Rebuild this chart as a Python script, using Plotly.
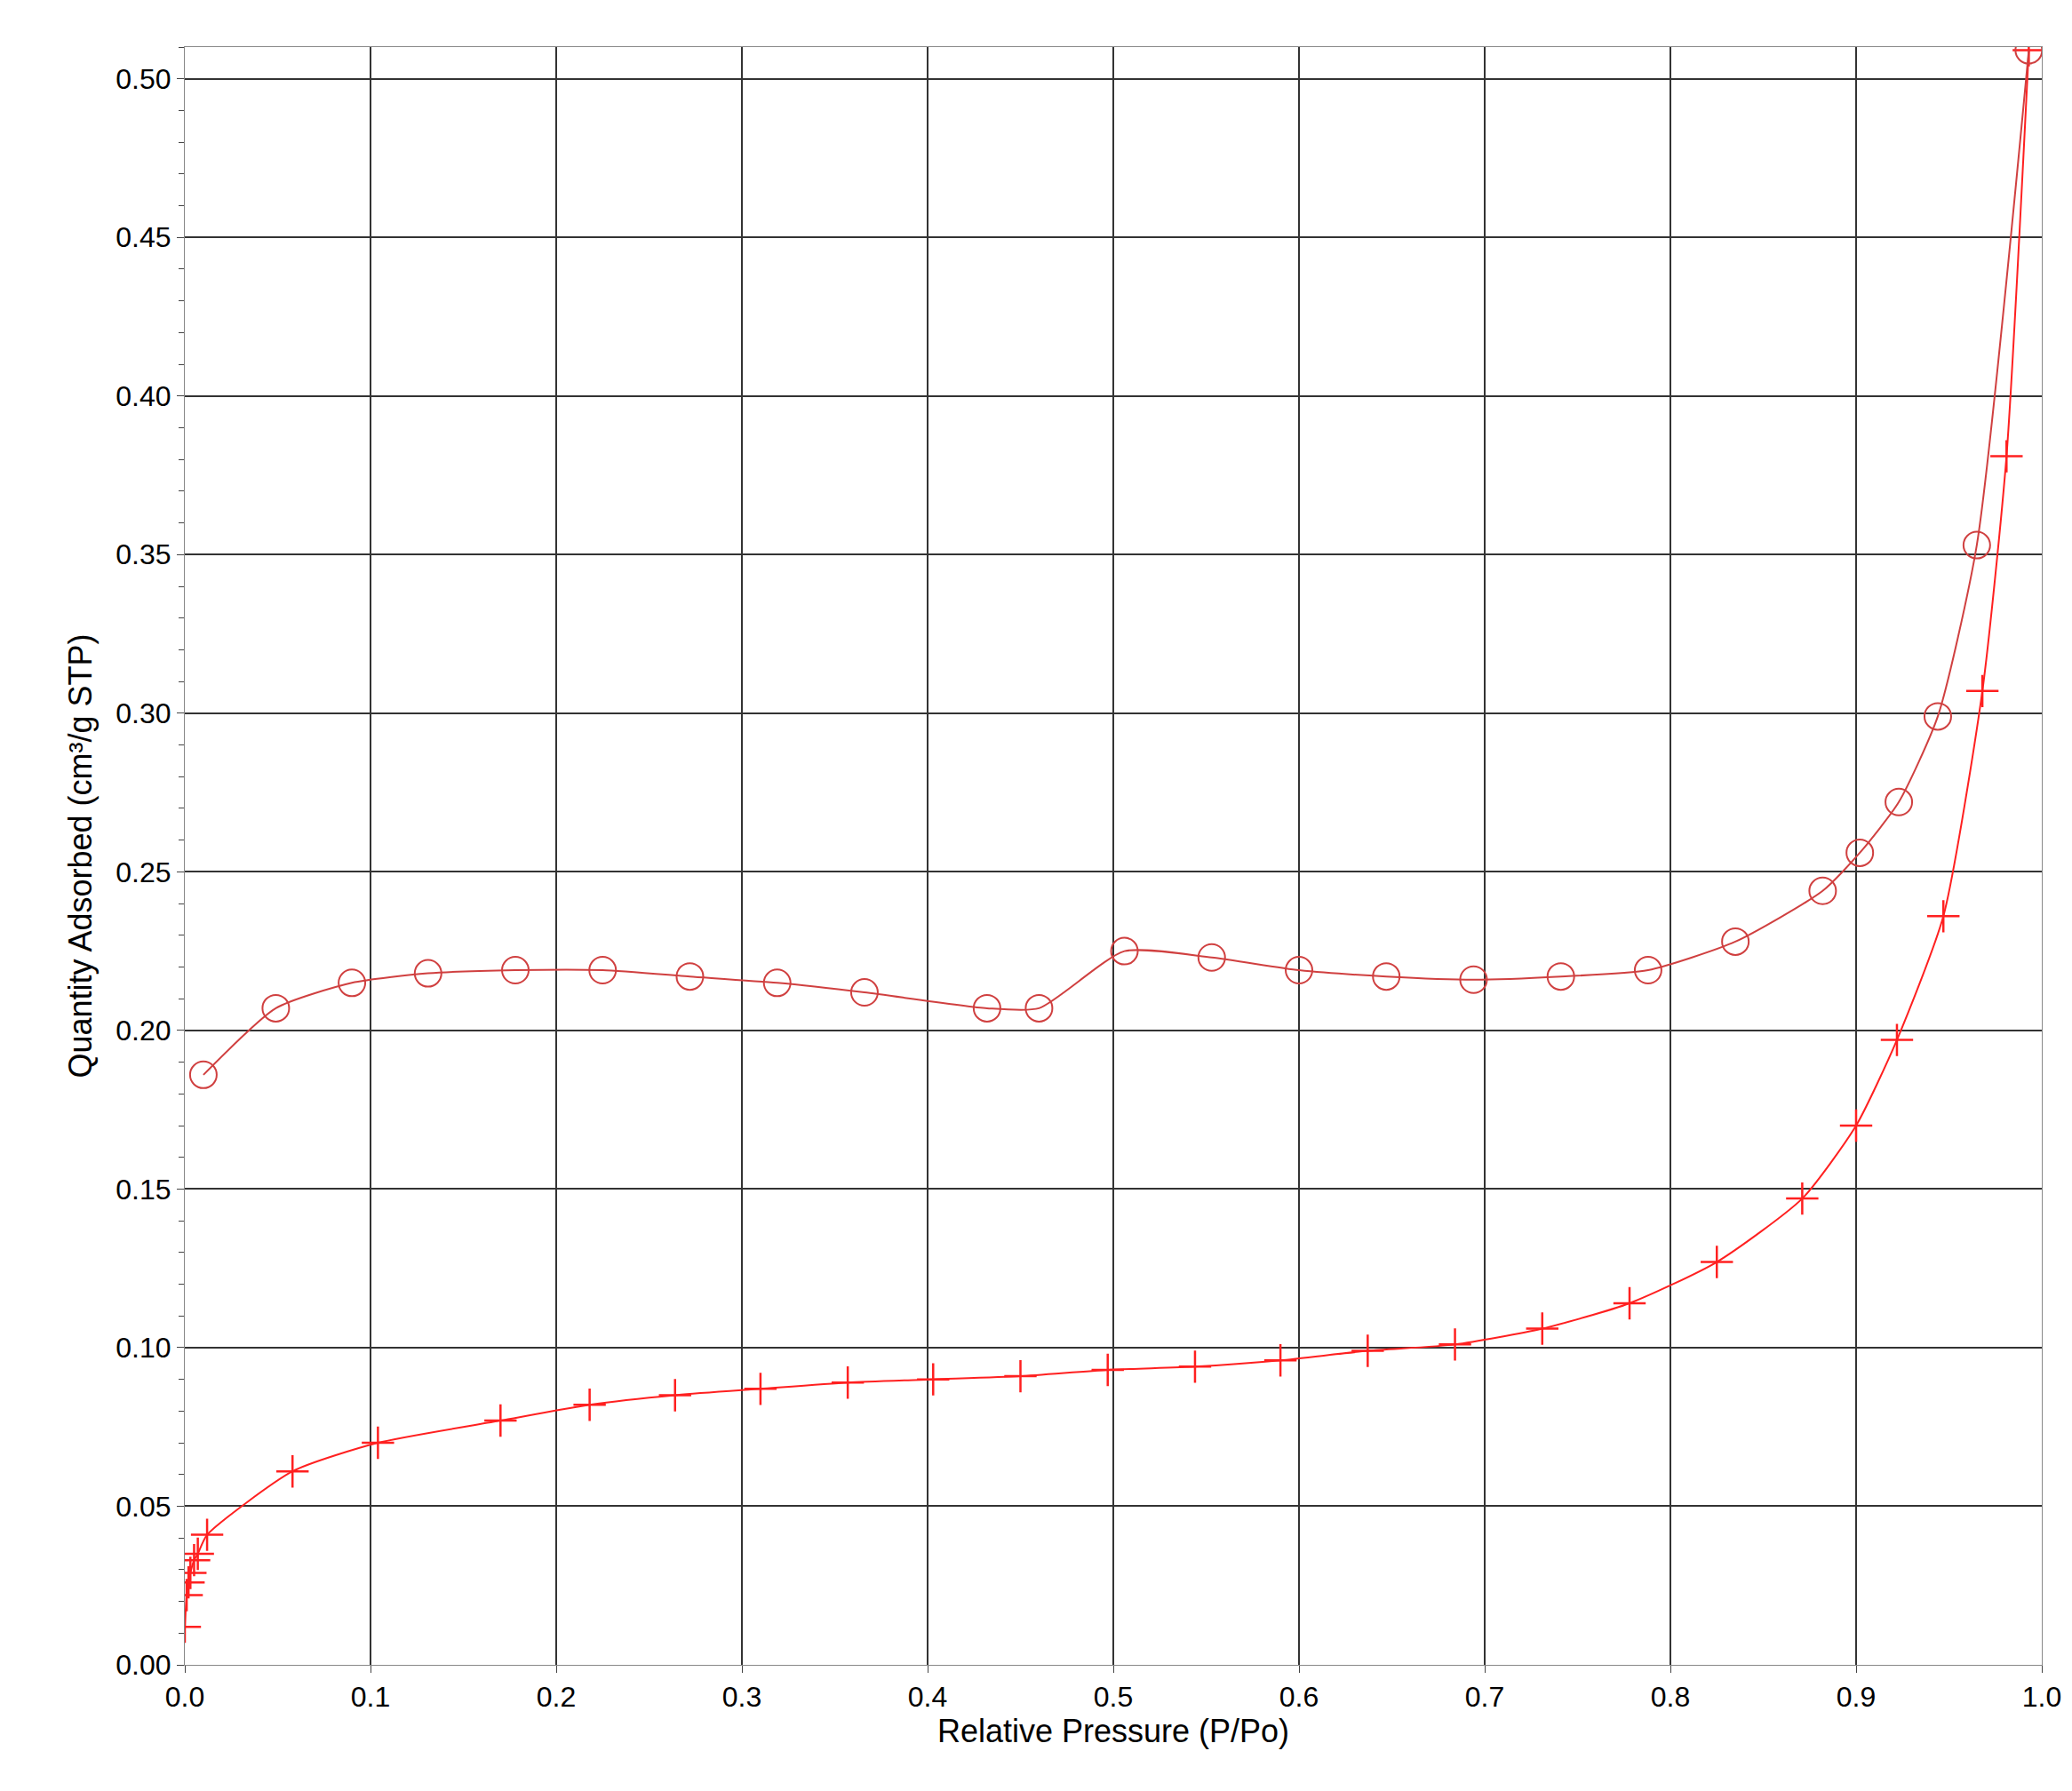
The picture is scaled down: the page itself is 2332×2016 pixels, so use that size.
import plotly.graph_objects as go

ads_x = [0.0, 0.001, 0.002, 0.003, 0.005, 0.007, 0.012, 0.058, 0.104, 0.170, 0.218, 0.264, 0.310,
         0.357, 0.403, 0.450, 0.497, 0.544, 0.590, 0.637, 0.684, 0.731, 0.778, 0.825, 0.871,
         0.900, 0.922, 0.947, 0.968, 0.981, 0.993]
ads_y = [0.012, 0.022, 0.026, 0.029, 0.033, 0.035, 0.041, 0.061, 0.070, 0.077, 0.082, 0.085, 0.087,
         0.089, 0.090, 0.091, 0.093, 0.094, 0.096, 0.099, 0.101, 0.106, 0.114, 0.127, 0.147,
         0.170, 0.197, 0.236, 0.307, 0.381, 0.509]

des_x = [0.993, 0.965, 0.944, 0.923, 0.902, 0.882, 0.835, 0.788, 0.741, 0.694, 0.647, 0.600,
         0.553, 0.506, 0.460, 0.432, 0.366, 0.319, 0.272, 0.225, 0.178, 0.131, 0.090, 0.049, 0.010]
des_y = [0.509, 0.353, 0.299, 0.272, 0.256, 0.244, 0.228, 0.219, 0.217, 0.216, 0.217, 0.219,
         0.223, 0.225, 0.207, 0.207, 0.212, 0.215, 0.217, 0.219, 0.219, 0.218, 0.215, 0.207, 0.186]

red = "#ff2020"
fig = go.Figure()
fig.add_trace(go.Scatter(x=ads_x, y=ads_y, mode="lines+markers",
                         line=dict(color=red, width=2, shape="spline", smoothing=0.6),
                         marker=dict(symbol="cross-thin", size=26, line=dict(color=red, width=2.5))))
fig.add_trace(go.Scatter(x=des_x, y=des_y, mode="lines+markers",
                         line=dict(color="#d04040", width=2, shape="spline", smoothing=0.6),
                         marker=dict(symbol="circle-open", size=30, color="#d04040", line=dict(width=2))))

font = dict(family="Liberation Sans, Arial", size=32, color="black")
fig.update_layout(
    width=2332, height=2016, showlegend=False,
    paper_bgcolor="white", plot_bgcolor="white",
    margin=dict(l=200, r=42, t=45, b=150),
    font=font,
    xaxis=dict(range=[0, 1], dtick=0.1, tickformat=".1f", showgrid=True, gridcolor="#333",
               gridwidth=2, ticks="outside", ticklen=8, linecolor="#888", mirror=True,
               title=dict(text="Relative Pressure (P/Po)", font=dict(size=36), standoff=5), zeroline=False),
    yaxis=dict(range=[0, 0.51], dtick=0.05, tickformat=".2f", showgrid=True, gridcolor="#333",
               gridwidth=2, ticks="outside", ticklen=8, linecolor="#888", mirror=True,
               minor=dict(dtick=0.01, ticks="outside", ticklen=6),
               title=dict(text="Quantity Adsorbed (cm³/g STP)", font=dict(size=36), standoff=15), zeroline=False),
)
fig.write_html("out.html")
